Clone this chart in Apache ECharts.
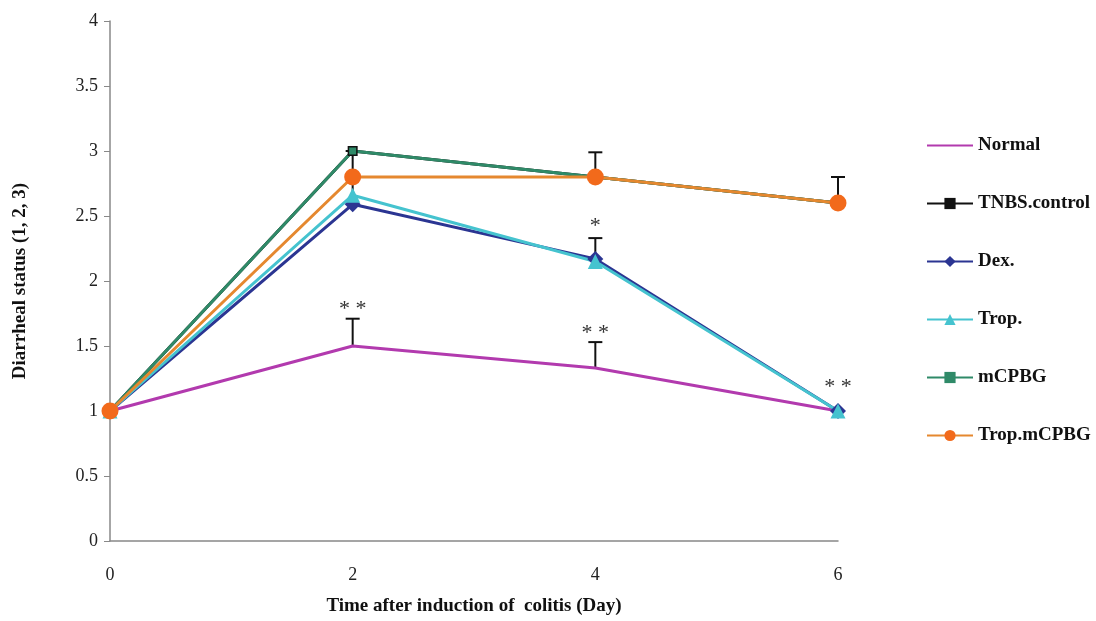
<!DOCTYPE html>
<html>
<head>
<meta charset="utf-8">
<script src="https://cdn.jsdelivr.net/npm/echarts@6/dist/echarts.min.js"></script>
<style>
  html, body { margin: 0; padding: 0; background: #fff; }
  #chart { width: 1096px; height: 621px; }
</style>
</head>
<body>
<div id="chart"></div>
<script>
const days = [0, 2, 4, 6];
const yTicks = [0, 0.5, 1, 1.5, 2, 2.5, 3, 3.5, 4];

const normal = [1, 1.5, 1.33, 1];
const tnbs = [1, 3, 2.8, 2.6];
const dex = [1, 2.59, 2.17, 1];
const trop = [1, 2.66, 2.15, 1];
const mcpbg = [1, 3, 2.8, 2.6];
const tropMcpbg = [1, 2.8, 2.8, 2.6];

// error bars: [day, low, high]
const errBars = [
  [2, 1.5, 1.71],
  [4, 1.33, 1.53],
  [2, 2.65, 3.0],
  [4, 2.8, 2.99],
  [6, 2.6, 2.8],
  [4, 2.17, 2.33]
];

// significance marks: [day, value, text]
const stars = [
  [2, 1.78, "* *"],
  [4, 1.6, "* *"],
  [4, 2.42, "*"],
  [6, 1.18, "* *"]
];

const serif = "'Liberation Serif', 'DejaVu Serif', serif";
const el = document.getElementById("chart");
const mychart = echarts.init(el);

function lineSeries(name, data, color, symbol, size, lineColor) {
  return {
    name: name,
    type: "line",
    data: days.map((d, i) => [d, data[i]]),
    symbol: symbol,
    symbolSize: size,
    showSymbol: symbol !== "none",
    lineStyle: { color: lineColor || color, width: 3 },
    itemStyle: { color: color },
    emphasis: { disabled: true },
    z: 3
  };
}

const series = [
  lineSeries("Normal", normal, "#b23aae", "none", 0),
  lineSeries("TNBS.control", tnbs, "#111111", "rect", 10),
  lineSeries("Dex.", dex, "#2b3592", "diamond", 16),
  lineSeries("Trop.", trop, "#45c3cf", "triangle", 15),
  lineSeries("mCPBG", mcpbg, "#2f8a68", "rect", 7),
  lineSeries("Trop.mCPBG", tropMcpbg, "#f26a1b", "circle", 17, "#e5882f"),
  {
    type: "custom",
    data: errBars,
    z: 2,
    silent: true,
    renderItem: function (params, api) {
      const x = api.value(0);
      const lo = api.coord([x, api.value(1)]);
      const hi = api.coord([x, api.value(2)]);
      return {
        type: "group",
        children: [
          { type: "line", shape: { x1: lo[0], y1: lo[1], x2: hi[0], y2: hi[1] }, style: { stroke: "#111", lineWidth: 2 } },
          { type: "line", shape: { x1: hi[0] - 7, y1: hi[1], x2: hi[0] + 7, y2: hi[1] }, style: { stroke: "#111", lineWidth: 2 } }
        ]
      };
    }
  },
  {
    type: "custom",
    data: stars,
    z: 4,
    silent: true,
    renderItem: function (params, api) {
      const p = api.coord([api.value(0), api.value(1)]);
      return {
        type: "text",
        style: {
          x: p[0], y: p[1],
          text: stars[params.dataIndex][2],
          fill: "#333",
          font: "22px " + serif,
          align: "center",
          verticalAlign: "middle"
        }
      };
    }
  }
];

const option = {
  backgroundColor: "#fff",
  animation: false,
  grid: { left: 110, right: 258, top: 21, bottom: 78 },
  legend: {
    orient: "vertical",
    left: 921,
    top: 131,
    itemWidth: 46,
    itemHeight: 14,
    itemGap: 39,
    textStyle: { fontFamily: serif, fontWeight: "bold", fontSize: 19, color: "#111" },
    data: [
      { name: "Normal", itemStyle: { color: "rgba(0,0,0,0)", borderWidth: 0 } },
      "TNBS.control", "Dex.", "Trop.", "mCPBG", "Trop.mCPBG"
    ]
  },
  xAxis: {
    type: "value",
    min: 0,
    max: 6,
    interval: 2,
    name: "Time after induction of  colitis (Day)",
    nameLocation: "middle",
    nameGap: 56,
    nameTextStyle: { fontFamily: serif, fontWeight: "bold", fontSize: 19, color: "#111" },
    axisLine: { lineStyle: { color: "#888", width: 1.5 } },
    axisTick: { show: false },
    axisLabel: { fontFamily: serif, fontSize: 18, color: "#222", margin: 25 },
    splitLine: { show: false }
  },
  yAxis: {
    type: "value",
    min: yTicks[0],
    max: yTicks[yTicks.length - 1],
    interval: 0.5,
    name: "Diarrheal status (1, 2, 3)",
    nameLocation: "middle",
    nameGap: 80,
    nameTextStyle: { fontFamily: serif, fontWeight: "bold", fontSize: 19, color: "#111" },
    axisLine: { show: true, lineStyle: { color: "#888", width: 1.5 } },
    axisTick: { show: true, length: 6, lineStyle: { color: "#888" } },
    axisLabel: { fontFamily: serif, fontSize: 18, color: "#222", margin: 12 },
    splitLine: { show: false }
  },
  series: series
};

mychart.setOption(option);
</script>
</body>
</html>
